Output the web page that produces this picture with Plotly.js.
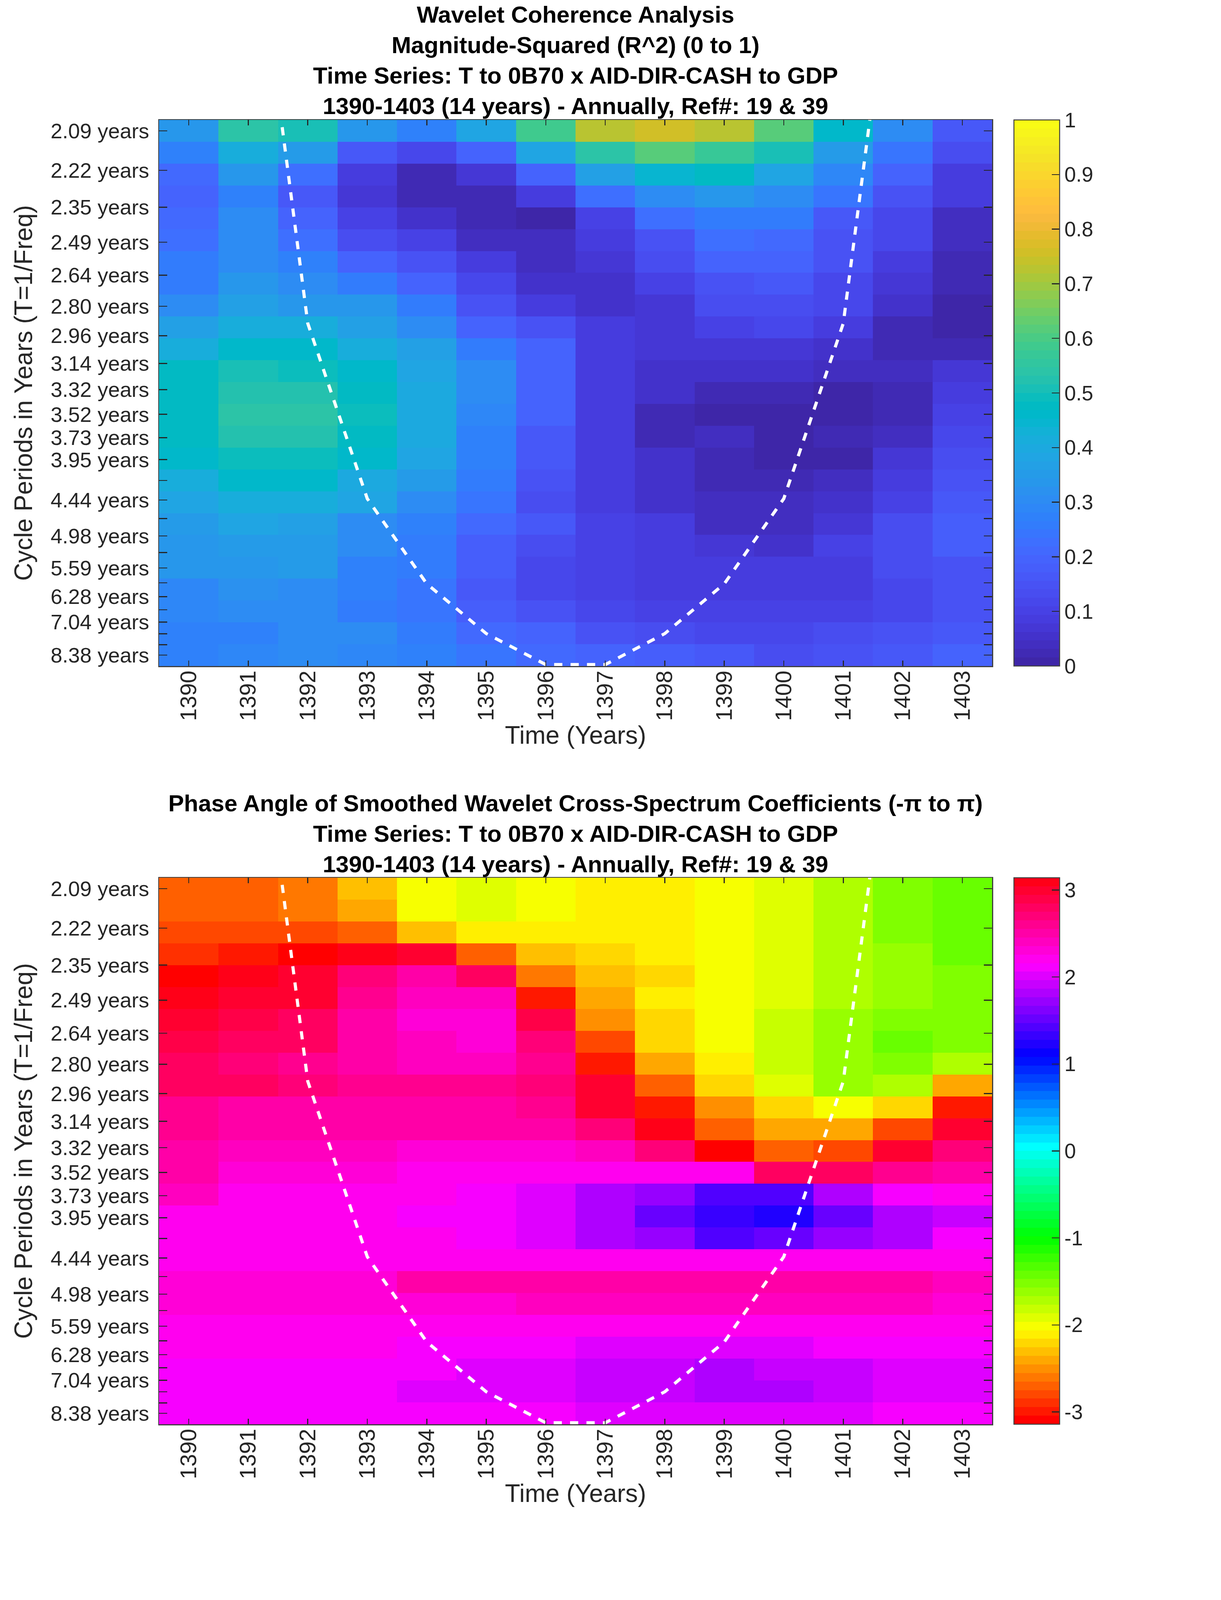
<!DOCTYPE html>
<html>
<head>
<meta charset="utf-8">
<script src="https://cdn.plot.ly/plotly-3.0.1.min.js"></script>
<style>
  html, body { margin: 0; padding: 0; background: #fff; overflow: hidden; }
  #plot, #plot2 { width: 3125px; display: block; }
</style>
</head>
<body>
<div id="plot"></div>
<div id="plot2"></div>
<script>
const years = [1390,1391,1392,1393,1394,1395,1396,1397,1398,1399,1400,1401,1402,1403];

// tick periods in years, the axis itself runs linear in frequency (1/T)
const tickPeriods = [2.094,2.219,2.351,2.491,2.639,2.796,2.962,3.138,3.325,3.523,3.732,3.954,4.189,4.438,4.702,4.982,5.278,5.592,5.924,6.277,6.650,7.045,7.464,7.908,8.378];
const tickLabels = ['2.09 years','2.22 years','2.35 years','2.49 years','2.64 years','2.80 years','2.96 years','3.14 years','3.32 years','3.52 years','3.73 years','3.95 years','','4.44 years','','4.98 years','','5.59 years','','6.28 years','','7.04 years','','','8.38 years'];

// cone of influence
const coiYears = [1391,1392,1393,1394,1395,1396,1397,1398,1399,1400,1401,1402];
const coiPeriods = [1.52,2.89,4.42,5.95,7.46,8.86,8.86,7.46,5.95,4.42,2.89,1.52];

const coherence = [
  [.34,.54,.50,.33,.27,.38,.58,.72,.76,.72,.61,.46,.30,.17],
  [.28,.42,.35,.17,.12,.20,.39,.54,.61,.57,.50,.35,.24,.13],
  [.21,.33,.22,.09,.03,.07,.20,.36,.45,.47,.38,.29,.19,.09],
  [.19,.28,.17,.07,.02,.02,.08,.22,.31,.33,.30,.24,.15,.09],
  [.21,.30,.20,.10,.05,.02,.015,.10,.22,.25,.25,.16,.115,.04],
  [.23,.31,.23,.125,.10,.04,.035,.09,.155,.23,.21,.15,.11,.04],
  [.25,.31,.27,.20,.155,.09,.035,.07,.135,.19,.19,.15,.09,.03],
  [.26,.33,.30,.26,.20,.115,.05,.05,.10,.15,.17,.12,.07,.025],
  [.31,.37,.34,.33,.25,.15,.08,.06,.07,.13,.14,.115,.06,.015],
  [.36,.42,.42,.37,.30,.19,.145,.08,.07,.105,.11,.08,.025,.015],
  [.42,.46,.46,.41,.36,.26,.20,.09,.07,.07,.07,.05,.025,.025],
  [.47,.51,.49,.46,.38,.31,.20,.09,.055,.05,.05,.04,.035,.07],
  [.47,.53,.53,.47,.40,.31,.20,.09,.05,.02,.02,.015,.025,.08],
  [.47,.54,.54,.49,.40,.29,.19,.09,.02,.01,.01,.005,.025,.10],
  [.47,.52,.52,.47,.40,.27,.17,.09,.025,.035,.005,.025,.045,.12],
  [.46,.49,.49,.46,.38,.27,.17,.09,.05,.03,.015,.015,.07,.13],
  [.42,.46,.46,.40,.35,.26,.15,.09,.05,.02,.02,.035,.09,.15],
  [.38,.42,.42,.38,.31,.24,.14,.09,.05,.035,.035,.05,.10,.16],
  [.35,.38,.36,.31,.27,.21,.16,.10,.08,.04,.04,.075,.125,.18],
  [.33,.35,.35,.30,.25,.18,.13,.10,.09,.07,.05,.10,.14,.18],
  [.33,.34,.35,.28,.25,.18,.12,.10,.09,.08,.08,.09,.13,.15],
  [.29,.32,.30,.27,.24,.16,.12,.10,.09,.08,.08,.09,.12,.15],
  [.29,.30,.30,.25,.24,.18,.15,.11,.10,.10,.10,.10,.12,.15],
  [.27,.28,.31,.30,.26,.21,.19,.15,.14,.12,.12,.125,.15,.17],
  [.28,.29,.30,.29,.27,.24,.21,.20,.18,.16,.14,.15,.17,.19]
];

const phase = [
  [-2.66,-2.66,-2.57,-2.31,-2.06,-1.92,-2.02,-2.07,-2.07,-2.06,-1.90,-1.69,-1.57,-1.42],
  [-2.66,-2.66,-2.57,-2.40,-2.06,-1.92,-2.02,-2.15,-2.15,-2.06,-1.90,-1.69,-1.50,-1.42],
  [-2.77,-2.77,-2.79,-2.73,-2.31,-2.15,-2.15,-2.15,-2.15,-2.06,-1.90,-1.69,-1.50,-1.42],
  [-2.89,-2.99,-3.07,3.10,3.03,-2.73,-2.33,-2.22,-2.15,-2.06,-1.90,-1.69,-1.60,-1.42],
  [-3.09,3.12,3.00,2.70,2.50,2.75,-2.60,-2.31,-2.22,-2.06,-1.90,-1.69,-1.60,-1.52],
  [3.08,3.03,2.97,2.62,2.38,2.38,-2.95,-2.39,-2.12,-2.06,-1.90,-1.69,-1.60,-1.52],
  [2.97,2.93,2.77,2.50,2.30,2.30,2.93,-2.51,-2.22,-2.06,-1.80,-1.61,-1.52,-1.52],
  [2.88,2.83,2.77,2.55,2.43,2.35,2.70,-2.80,-2.22,-2.06,-1.80,-1.61,-1.42,-1.52],
  [2.81,2.73,2.63,2.53,2.45,2.45,2.65,-2.99,-2.39,-2.12,-1.80,-1.61,-1.52,-1.70],
  [2.79,2.77,2.67,2.60,2.57,2.57,2.67,3.00,-2.71,-2.22,-1.92,-1.65,-1.70,-2.39],
  [2.57,2.55,2.47,2.53,2.55,2.55,2.58,2.95,-2.95,-2.51,-2.22,-2.06,-2.23,-2.95],
  [2.63,2.52,2.52,2.47,2.47,2.47,2.47,2.73,3.05,-2.66,-2.39,-2.39,-2.79,2.97],
  [2.52,2.42,2.42,2.40,2.27,2.27,2.32,2.43,2.73,-3.10,-2.71,-2.79,3.01,2.67],
  [2.52,2.33,2.33,2.33,2.20,2.20,2.20,2.20,2.20,2.20,2.75,2.75,2.65,2.52],
  [2.38,2.25,2.25,2.25,2.20,2.10,1.98,1.85,1.69,1.46,1.40,1.77,2.13,2.17],
  [2.20,2.20,2.20,2.20,2.13,2.10,1.98,1.77,1.55,1.35,1.25,1.53,1.85,1.93],
  [2.18,2.18,2.18,2.18,2.18,2.10,1.98,1.85,1.75,1.47,1.49,1.73,1.80,2.15],
  [2.20,2.20,2.20,2.20,2.22,2.22,2.22,2.22,2.22,2.22,2.22,2.22,2.22,2.25],
  [2.35,2.35,2.35,2.35,2.47,2.47,2.47,2.52,2.52,2.52,2.55,2.55,2.47,2.37],
  [2.35,2.35,2.35,2.35,2.35,2.35,2.43,2.43,2.43,2.43,2.43,2.43,2.37,2.35],
  [2.20,2.20,2.20,2.20,2.20,2.20,2.20,2.20,2.20,2.20,2.20,2.20,2.20,2.20],
  [2.18,2.18,2.18,2.18,2.13,2.13,2.13,2.05,2.05,2.05,2.05,2.13,2.13,2.13],
  [2.13,2.13,2.13,2.13,2.10,2.01,2.01,1.90,1.90,1.80,1.91,1.91,1.98,1.98],
  [2.13,2.13,2.13,2.13,2.01,2.01,2.01,1.90,1.90,1.77,1.77,1.88,1.98,1.98],
  [2.15,2.15,2.15,2.15,2.13,2.13,2.13,2.05,2.05,2.05,2.05,2.03,2.10,2.10]
];

const parula = [
  [.2422,.1504,.6603],[.2504,.1650,.7076],[.2578,.1818,.7511],[.2647,.1978,.7952],
  [.2706,.2147,.8364],[.2751,.2342,.8710],[.2783,.2559,.8991],[.2803,.2782,.9221],
  [.2813,.3006,.9414],[.2810,.3228,.9579],[.2795,.3447,.9717],[.2760,.3667,.9829],
  [.2699,.3892,.9906],[.2602,.4123,.9952],[.2440,.4358,.9988],[.2206,.4603,.9973],
  [.1963,.4847,.9892],[.1834,.5074,.9798],[.1786,.5289,.9682],[.1764,.5499,.9520],
  [.1687,.5703,.9359],[.1540,.5902,.9218],[.1460,.6091,.9079],[.1380,.6276,.8973],
  [.1248,.6459,.8883],[.1113,.6635,.8763],[.0952,.6798,.8598],[.0689,.6948,.8394],
  [.0297,.7082,.8163],[.0036,.7203,.7917],[.0067,.7312,.7660],[.0433,.7411,.7394],
  [.0964,.7500,.7120],[.1408,.7584,.6842],[.1717,.7670,.6554],[.1938,.7758,.6251],
  [.2161,.7843,.5923],[.2470,.7918,.5567],[.2906,.7973,.5188],[.3406,.8008,.4789],
  [.3909,.8029,.4354],[.4456,.8024,.3909],[.5044,.7993,.3480],[.5616,.7942,.3045],
  [.6174,.7876,.2612],[.6720,.7793,.2227],[.7242,.7698,.1910],[.7738,.7598,.1646],
  [.8203,.7498,.1535],[.8634,.7406,.1596],[.9035,.7330,.1774],[.9393,.7288,.2100],
  [.9728,.7298,.2394],[.9956,.7434,.2371],[.9970,.7659,.2199],[.9952,.7893,.2028],
  [.9892,.8136,.1885],[.9786,.8386,.1766],[.9676,.8639,.1643],[.9610,.8890,.1537],
  [.9597,.9135,.1423],[.9628,.9373,.1265],[.9691,.9606,.1064],[.9769,.9839,.0805]
];

function hsvColor(i, n) {
  var h = i / n * 6, k = Math.floor(h), f = h - k;
  var rows = [[1,f,0],[1-f,1,0],[0,1,f],[0,1-f,1],[f,0,1],[1,0,1-f]];
  return rows[k % 6];
}

function stepped(colors) {
  var scale = [];
  for (var i = 0; i < colors.length; i++) {
    var c = 'rgb(' + colors[i].map(function(v) { return Math.round(v * 255); }).join(',') + ')';
    scale.push([i / colors.length, c]);
    scale.push([(i + 1) / colors.length, c]);
  }
  return scale;
}

var hsv = [];
for (var i = 0; i < 64; i++) hsv.push(hsvColor(i, 64));

const fTop = 1 / tickPeriods[0];
const fBot = 1 / tickPeriods[tickPeriods.length - 1];
const fStep = (fTop - fBot) / (tickPeriods.length - 1);
const rowFreq = tickPeriods.map(function(p, i) { return fTop - i * fStep; });
const tickFreq = tickPeriods.map(function(p) { return 1 / p; });
const coiFreq = coiPeriods.map(function(p) { return 1 / p; });

const FONT = 'Liberation Sans, Arial, sans-serif';
const INK = '#262626';

// reference page is 6252 tall, fit the vertical layout to the window we really get
const sy = Math.min(window.innerHeight, 6252) / 6252;
const titleSize = sy < 1 ? 60 : 64;
const yTickSize = sy < 1 ? 54 : 58;

function drawPanel(div, z, zmin, zmax, colors, cbVals, cbText, titleText, lines, top, divHeight) {
  var divH = divHeight * sy, plotTop = top * sy, plotH = 2134 * sy;
  var titleTop = plotTop - 18 * sy - 3 - (lines - 1) * 1.3 * titleSize;
  var dash = Math.round(32 * sy);
  var traces = [
    {
      type: 'heatmap', x: years, y: rowFreq, z: z, zmin: zmin, zmax: zmax, zsmooth: false,
      colorscale: stepped(colors), hoverinfo: 'skip',
      colorbar: {
        x: 1.02650, xanchor: 'left', xpad: 0, y: 0.5, yanchor: 'middle', ypad: 0,
        len: 1, lenmode: 'fraction', thickness: 116.5, thicknessmode: 'pixels',
        outlinewidth: 2.5, outlinecolor: '#404040',
        ticks: 'inside', ticklen: 21, tickwidth: 2.5, tickcolor: INK,
        tickmode: 'array', tickvals: cbVals, ticktext: cbText,
        tickfont: {family: FONT, size: 53, color: INK}
      }
    },
    {
      type: 'scatter', mode: 'lines', x: coiYears, y: coiFreq, hoverinfo: 'skip',
      line: {color: '#ffffff', width: 8, dash: dash + 'px,' + dash + 'px'}, showlegend: false
    }
  ];
  var layout = {
    width: 3125, height: divH, paper_bgcolor: '#fff', plot_bgcolor: '#fff',
    margin: {l: 407, r: 586, t: plotTop, b: divH - plotTop - plotH, pad: 0},
    font: {family: FONT, color: INK},
    title: {
      text: titleText, x: 0.5, xref: 'paper', xanchor: 'center',
      y: 1 - titleTop / divH, yref: 'container', yanchor: 'top',
      font: {family: FONT, size: titleSize, color: '#000', weight: 'bold'}
    },
    xaxis: {
      range: [1389.5, 1403.5], tickmode: 'array', tickvals: years, ticktext: years.map(String),
      tickangle: -90, ticks: 'inside', ticklen: 21 * sy, tickwidth: 2.5, tickcolor: INK,
      showline: true, linecolor: '#404040', linewidth: 2.5, mirror: 'ticks', showgrid: false, zeroline: false,
      tickfont: {family: FONT, size: 58, color: INK}, ticklabelstandoff: sy < 1 ? -14 : 4,
      title: {text: 'Time (Years)', font: {family: FONT, size: 64, color: INK}, standoff: sy < 1 ? 8 : 32}
    },
    yaxis: {
      range: [fBot - fStep / 2, fTop + fStep / 2], tickmode: 'array', tickvals: tickFreq, ticktext: tickLabels,
      ticks: 'inside', ticklen: 21, tickwidth: 2.5, tickcolor: INK,
      showline: true, linecolor: '#404040', linewidth: 2.5, mirror: 'ticks', showgrid: false, zeroline: false,
      tickfont: {family: FONT, size: yTickSize, color: INK}, ticklabelstandoff: 12,
      title: {text: 'Cycle Periods in Years (T=1/Freq)', font: {family: FONT, size: 64, color: INK}, standoff: sy < 1 ? 26 : 10}
    }
  };
  Plotly.newPlot(div, traces, layout, {displayModeBar: false, staticPlot: true});
}

drawPanel('plot', coherence, 0, 1, parula,
  [0,.1,.2,.3,.4,.5,.6,.7,.8,.9,1], ['0','0.1','0.2','0.3','0.4','0.5','0.6','0.7','0.8','0.9','1'],
  'Wavelet Coherence Analysis<br>Magnitude-Squared (R^2) (0 to 1)<br>Time Series: T to 0B70 x AID-DIR-CASH to GDP<br>1390-1403 (14 years) - Annually, Ref#: 19 & 39',
  4, 469, 3000);

drawPanel('plot2', phase, -Math.PI, Math.PI, hsv,
  [-3,-2,-1,0,1,2,3], ['-3','-2','-1','0','1','2','3'],
  'Phase Angle of Smoothed Wavelet Cross-Spectrum Coefficients (-π to π)<br>Time Series: T to 0B70 x AID-DIR-CASH to GDP<br>1390-1403 (14 years) - Annually, Ref#: 19 & 39',
  3, 431, 3252);
</script>
</body>
</html>
